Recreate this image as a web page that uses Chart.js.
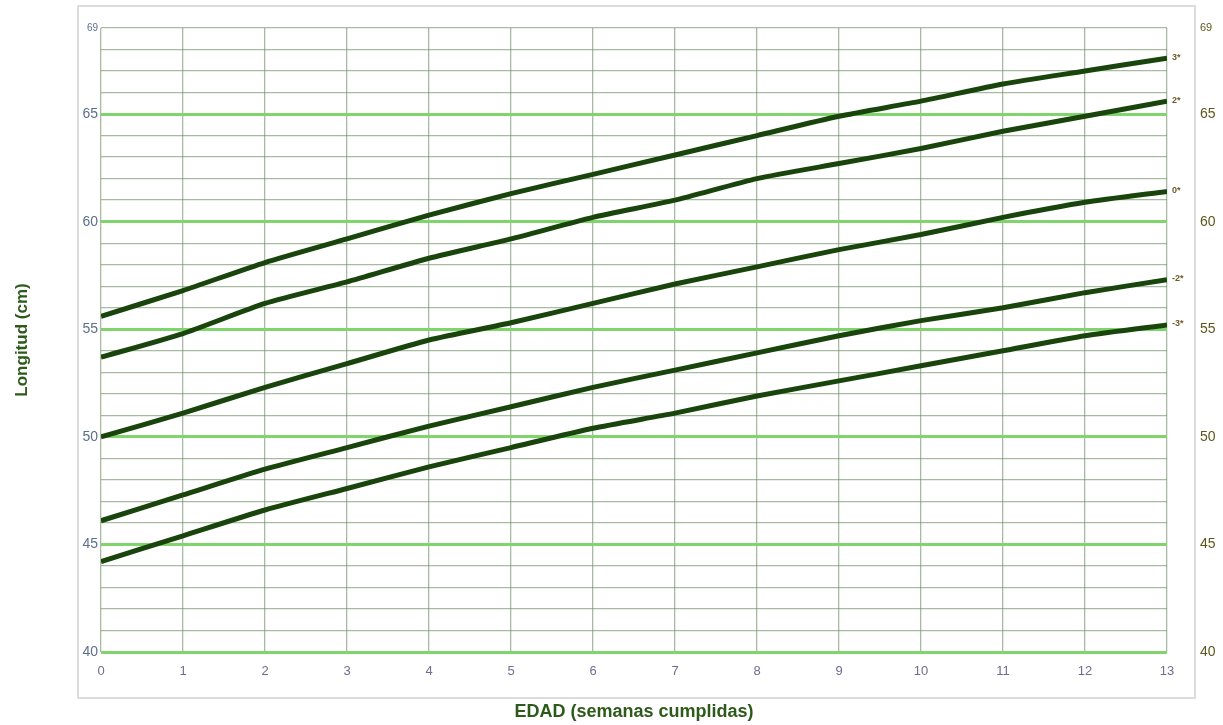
<!DOCTYPE html>
<html>
<head>
<meta charset="utf-8">
<script src="https://cdn.jsdelivr.net/npm/chart.js@4"></script>
<style>
  body { margin: 0; background: #fff; }
  #wrap { position: relative; width: 1223px; height: 725px; }
  #frame { position: absolute; left: 77px; top: 5px; width: 1115px; height: 690px;
           border: 2px solid #dcdcdc; pointer-events: none; }
</style>
</head>
<body>
<div id="wrap">
  <canvas id="growth"></canvas>
  <div id="frame"></div>
</div>
<script>
const weeks = [0, 1, 2, 3, 4, 5, 6, 7, 8, 9, 10, 11, 12, 13];

const sd3pos = [55.6, 56.8, 58.1, 59.2, 60.3, 61.3, 62.2, 63.1, 64.0, 64.9, 65.6, 66.4, 67.0, 67.6];
const sd2pos = [53.7, 54.8, 56.2, 57.2, 58.3, 59.2, 60.2, 61.0, 62.0, 62.7, 63.4, 64.2, 64.9, 65.6];
const median = [50.0, 51.1, 52.3, 53.4, 54.5, 55.3, 56.2, 57.1, 57.9, 58.7, 59.4, 60.2, 60.9, 61.4];
const sd2neg = [46.1, 47.3, 48.5, 49.5, 50.5, 51.4, 52.3, 53.1, 53.9, 54.7, 55.4, 56.0, 56.7, 57.3];
const sd3neg = [44.2, 45.4, 46.6, 47.6, 48.6, 49.5, 50.4, 51.1, 51.9, 52.6, 53.3, 54.0, 54.7, 55.2];

const curveLabels = ['3*', '2*', '0*', '-2*', '-3*'];
const curves = [sd3pos, sd2pos, median, sd2neg, sd3neg];

const yMin = 40, yMax = 69;

const lineColor = '#19450c';
const thinGrid = 'rgba(110,140,100,0.6)';
const greenGrid = '#80d46c';

function toPoints(values) {
    return weeks.map((w, i) => ({ x: w, y: values[i] }));
}

function yLabel(v) {
    return (v % 5 === 0 || v === yMax) ? String(v) : '';
}

// little tags at the end of each curve
const endTags = {
    id: 'endTags',
    afterDatasetsDraw(chart) {
        const ctx = chart.ctx;
        ctx.save();
        ctx.font = 'bold 9px "Liberation Sans", Arial, sans-serif';
        ctx.fillStyle = '#6b5a2a';
        ctx.textAlign = 'left';
        ctx.textBaseline = 'middle';
        chart.data.datasets.forEach((ds, i) => {
            const pts = chart.getDatasetMeta(i).data;
            const last = pts[pts.length - 1];
            ctx.fillText(curveLabels[i], last.x + 5, last.y - 1);
        });
        ctx.restore();
    }
};

const cfg = {
    type: 'line',
    data: {
        datasets: curves.map((c, i) => ({
            label: curveLabels[i],
            data: toPoints(c),
            borderColor: lineColor,
            backgroundColor: lineColor,
            borderWidth: 5,
            pointRadius: 0,
            tension: 0.2,
            fill: false
        }))
    },
    options: {
        responsive: true,
        maintainAspectRatio: false,
        animation: false,
        layout: { padding: { top: 28, left: 0, right: 0, bottom: 0 } },
        plugins: {
            legend: { display: false },
            tooltip: { enabled: false }
        },
        scales: {
            x: {
                type: 'linear',
                min: 0,
                max: 13,
                border: { display: false },
                grid: { color: thinGrid, lineWidth: 1.3, drawTicks: false },
                ticks: {
                    stepSize: 1,
                    padding: 12,
                    color: '#6e6e8e',
                    font: { family: '"Liberation Sans", Arial, sans-serif', size: 13 }
                },
                title: {
                    display: true,
                    text: 'EDAD (semanas cumplidas)',
                    color: '#2d5a1a',
                    font: { family: '"Liberation Sans", Arial, sans-serif', size: 18, weight: 'bold' },
                    padding: { top: 0, bottom: 2 }
                },
                afterFit(scale) { scale.height = 73; }
            },
            y: {
                type: 'linear',
                position: 'left',
                min: yMin,
                max: yMax,
                border: { display: false },
                grid: {
                    drawTicks: false,
                    color: ctx => (ctx.tick && ctx.tick.value % 5 === 0) ? greenGrid : thinGrid,
                    lineWidth: ctx => (ctx.tick && ctx.tick.value % 5 === 0) ? 3 : 1.3
                },
                ticks: {
                    stepSize: 1,
                    autoSkip: false,
                    padding: 3,
                    color: '#5d6f8c',
                    font: ctx => ({
                        family: '"Liberation Sans", Arial, sans-serif',
                        size: ctx.tick && ctx.tick.value === yMax ? 10 : 14
                    }),
                    callback: yLabel
                },
                title: {
                    display: true,
                    text: 'Longitud (cm)',
                    color: '#2d5a1a',
                    font: { family: '"Liberation Sans", Arial, sans-serif', size: 17, weight: 'bold' },
                    padding: { top: 12, bottom: 0 }
                },
                afterFit(scale) { scale.width = 101; }
            },
            y2: {
                type: 'linear',
                position: 'right',
                min: yMin,
                max: yMax,
                border: { display: false },
                grid: { display: false, drawTicks: false },
                ticks: {
                    stepSize: 1,
                    autoSkip: false,
                    padding: 33,
                    color: '#5f561c',
                    font: ctx => ({
                        family: '"Liberation Sans", Arial, sans-serif',
                        size: ctx.tick && ctx.tick.value === yMax ? 11 : 14
                    }),
                    callback: yLabel
                },
                afterFit(scale) {
                    scale.width = 56;
                    // the big tick padding should not push the plot down
                    scale.paddingTop = 6;
                    scale.paddingBottom = 6;
                }
            }
        }
    },
    plugins: [endTags]
};

new Chart(document.getElementById('growth'), cfg);
</script>
</body>
</html>
